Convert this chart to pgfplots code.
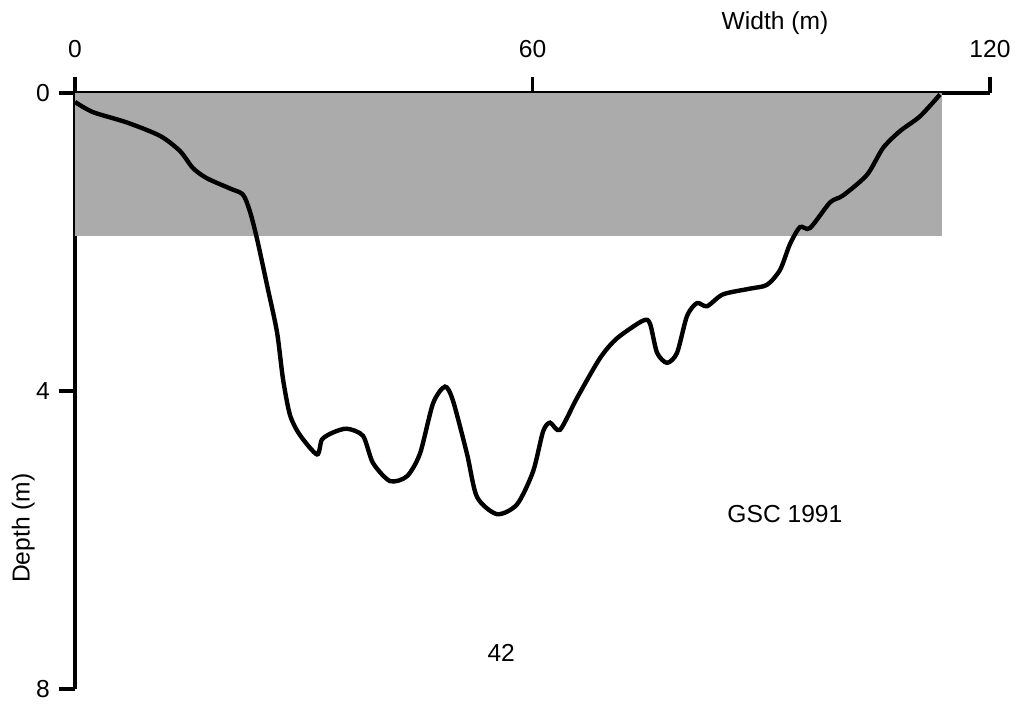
\documentclass[border=0pt]{standalone}
\usepackage{pgfplots}
\pgfplotsset{compat=1.18}
\usepackage{fontspec}
\setmainfont{Liberation Sans}
\begin{document}
\begin{tikzpicture}
\path[use as bounding box] (-1.5cm,1.86cm) rectangle (18.92cm,-12.4cm);
\begin{axis}[
  at={(0,0)}, anchor=north west,
  scale only axis, width=18.3cm, height=11.92cm,
  xmin=0, xmax=120, ymin=0, ymax=8,
  y dir=reverse,
  axis x line=top, axis y line=left,
  axis line style={-, line width=2pt},
  tick align=outside,
  major tick length=0.33cm,
  tick style={line width=2pt, black},
  xtick={0,60,120}, ytick={0,4,8},
  /pgf/number format/assume math mode=true,
  tick label style={font=\fontsize{14}{16}\selectfont},
  xticklabel style={yshift=0.25cm},
  yticklabel style={xshift=-0.05cm},
  clip=false,
]
\addplot[fill=black!33, draw=none] coordinates {(0,0) (113.7,0) (113.7,1.92) (0,1.92)} -- cycle;
\addplot[black, line width=2.5pt, smooth, tension=0.45] coordinates {
(0,0.12) (2.36,0.257) (6.82,0.396) (11.15,0.575) (13.77,0.779) (15.48,1.009)
(17.31,1.145) (20.33,1.282) (22.03,1.364) (22.95,1.593) (23.87,1.957)
(25.18,2.576) (26.49,3.208) (27.28,3.840) (28.20,4.324) (29.51,4.593)
(31.74,4.851) (32.39,4.650) (33.84,4.557) (35.67,4.506) (37.77,4.602)
(39.08,4.966) (41.31,5.209) (43.54,5.144) (45.25,4.838) (46.95,4.168)
(48.52,3.941) (49.57,4.130) (51.41,4.844) (52.72,5.422) (55.34,5.653)
(57.97,5.522) (60.07,5.081) (61.38,4.545) (62.30,4.425) (63.61,4.521)
(65.84,4.093) (68.85,3.559) (71.08,3.293) (74.49,3.055) (75.41,3.096)
(76.33,3.486) (77.64,3.622) (78.95,3.489) (80.26,2.994) (81.57,2.820)
(82.89,2.862) (84.98,2.703) (88.52,2.626) (90.75,2.575) (92.46,2.375)
(93.77,2.027) (95.08,1.800) (96.39,1.813) (99.02,1.469) (100.72,1.376)
(103.87,1.098) (105.97,0.738) (108.20,0.511) (110.82,0.313) (113.44,0.02)
};
\node[font=\fontsize{14}{16}\selectfont] at (axis cs:91.8,-0.94) {Width (m)};
\node[font=\fontsize{14}{16}\selectfont] at (axis cs:93.1,5.65) {GSC 1991};
\node[font=\fontsize{14}{16}\selectfont] at (axis cs:55.9,7.52) {42};
\node[font=\fontsize{14}{16}\selectfont, rotate=90] at (axis cs:-6.8,5.84) {Depth (m)};
\end{axis}
\end{tikzpicture}
\end{document}
